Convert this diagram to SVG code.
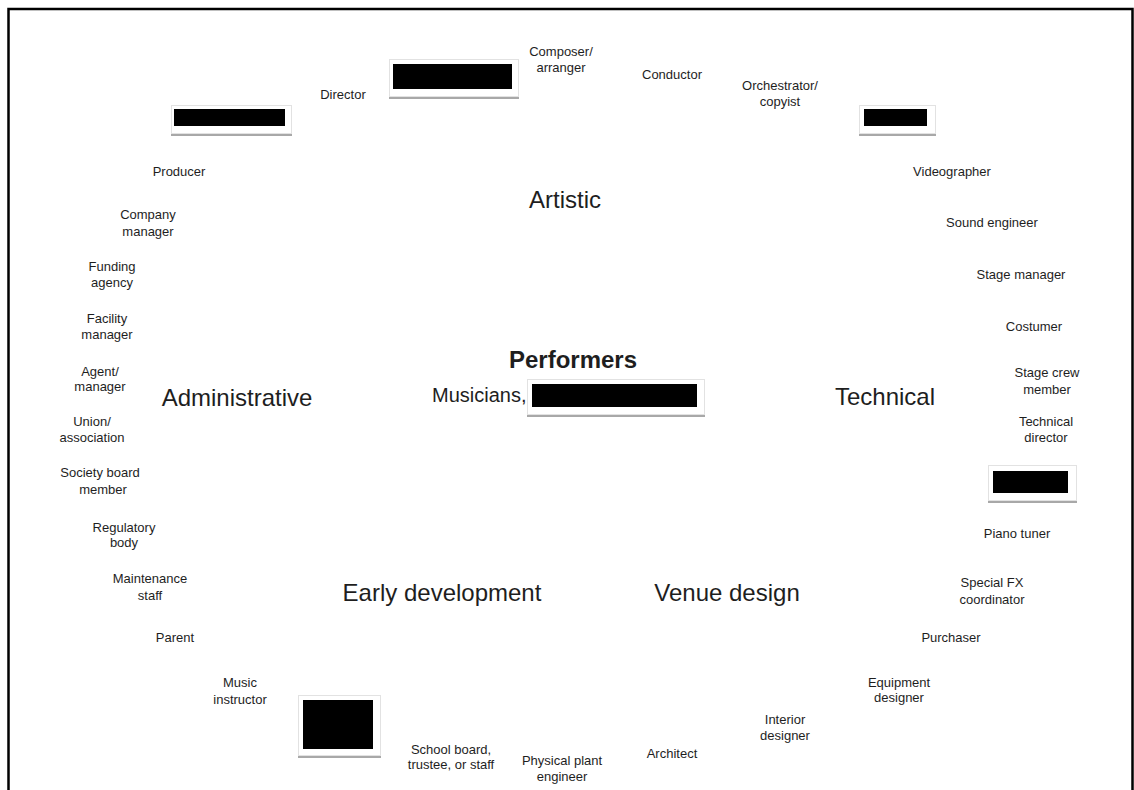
<svg xmlns="http://www.w3.org/2000/svg" width="1134" height="790" viewBox="0 0 1134 790">
<style>
  text { font-family: "Liberation Sans", Arial, sans-serif; fill: #1e1e1e; text-anchor: middle; }
  .s { font-size: 13px; }
  .c { font-size: 24px; }
  .p { font-size: 24px; font-weight: bold; }
  .m { font-size: 20px; text-anchor: start; }
  .shadow { fill: #a8a8a8; }
  .frame { fill: #ffffff; stroke: #e2e2e2; stroke-width: 1; }
  .redact { fill: #000000; }
  .border { stroke: #000000; stroke-width: 2.5; fill: none; }
</style>
<rect width="1134" height="790" fill="#ffffff"/>
<g id="border">
  <polyline class="border" points="8.5,790 8.5,9 1132.5,9 1132.5,790"/>
</g>
<g id="connectors"></g>

<!-- centre -->
<g id="performers"><text class="p" x="573" y="368">Performers</text></g>
<g id="musicians">
  <text class="m" x="432" y="402">Musicians,</text>
  <rect class="shadow" x="527" y="382" width="178" height="35"/>
  <rect class="frame" x="527.5" y="379.5" width="177" height="35"/>
  <rect class="redact" x="532" y="384" width="165" height="23"/>
</g>

<!-- categories -->
<g id="cat-artistic"><text class="c" x="565" y="208">Artistic</text></g>
<g id="cat-administrative"><text class="c" x="237" y="406">Administrative</text></g>
<g id="cat-technical"><text class="c" x="885" y="405">Technical</text></g>
<g id="cat-early"><text class="c" x="442" y="601">Early development</text></g>
<g id="cat-venue"><text class="c" x="727" y="601">Venue design</text></g>

<!-- redacted boxes -->
<g id="redact-1">
  <rect class="shadow" x="171" y="108" width="121" height="28"/>
  <rect class="frame" x="171.5" y="105.5" width="120" height="28"/>
  <rect class="redact" x="174" y="109" width="111" height="17"/>
</g>
<g id="redact-2">
  <rect class="shadow" x="389" y="62" width="130" height="37"/>
  <rect class="frame" x="389.5" y="59.5" width="129" height="37"/>
  <rect class="redact" x="393" y="64" width="119" height="25"/>
</g>
<g id="redact-3">
  <rect class="shadow" x="859" y="108" width="77" height="28"/>
  <rect class="frame" x="859.5" y="105.5" width="76" height="28"/>
  <rect class="redact" x="864" y="109" width="63" height="17"/>
</g>
<g id="redact-4">
  <rect class="shadow" x="988" y="468" width="89" height="35"/>
  <rect class="frame" x="988.5" y="465.5" width="88" height="35"/>
  <rect class="redact" x="993" y="471" width="75" height="22"/>
</g>
<g id="redact-5">
  <rect class="shadow" x="298" y="698" width="83" height="60"/>
  <rect class="frame" x="298.5" y="695.5" width="82" height="60"/>
  <rect class="redact" x="303" y="700" width="70" height="49"/>
</g>

<!-- roles -->
<g id="composer"><text class="s" x="561" y="56">Composer/</text><text class="s" x="561" y="72">arranger</text></g>
<g id="conductor"><text class="s" x="672" y="79">Conductor</text></g>
<g id="orchestrator"><text class="s" x="780" y="90">Orchestrator/</text><text class="s" x="780" y="106">copyist</text></g>
<g id="director"><text class="s" x="343" y="99">Director</text></g>
<g id="producer"><text class="s" x="179" y="176">Producer</text></g>
<g id="videographer"><text class="s" x="952" y="176">Videographer</text></g>
<g id="company-manager"><text class="s" x="148" y="219">Company</text><text class="s" x="148" y="236">manager</text></g>
<g id="funding-agency"><text class="s" x="112" y="271">Funding</text><text class="s" x="112" y="287">agency</text></g>
<g id="facility-manager"><text class="s" x="107" y="323">Facility</text><text class="s" x="107" y="339">manager</text></g>
<g id="agent-manager"><text class="s" x="100" y="376">Agent/</text><text class="s" x="100" y="391">manager</text></g>
<g id="union"><text class="s" x="92" y="426">Union/</text><text class="s" x="92" y="442">association</text></g>
<g id="society-board"><text class="s" x="100" y="477">Society board</text><text class="s" x="103" y="494">member</text></g>
<g id="regulatory"><text class="s" x="124" y="532">Regulatory</text><text class="s" x="124" y="547">body</text></g>
<g id="maintenance"><text class="s" x="150" y="583">Maintenance</text><text class="s" x="150" y="600">staff</text></g>
<g id="parent"><text class="s" x="175" y="642">Parent</text></g>
<g id="music-instructor"><text class="s" x="240" y="687">Music</text><text class="s" x="240" y="704">instructor</text></g>
<g id="school-board"><text class="s" x="451" y="754">School board,</text><text class="s" x="451" y="769">trustee, or staff</text></g>
<g id="physical-plant"><text class="s" x="562" y="765">Physical plant</text><text class="s" x="562" y="781">engineer</text></g>
<g id="architect"><text class="s" x="672" y="758">Architect</text></g>
<g id="interior-designer"><text class="s" x="785" y="724">Interior</text><text class="s" x="785" y="740">designer</text></g>
<g id="equipment-designer"><text class="s" x="899" y="687">Equipment</text><text class="s" x="899" y="702">designer</text></g>
<g id="purchaser"><text class="s" x="951" y="642">Purchaser</text></g>
<g id="special-fx"><text class="s" x="992" y="587">Special  FX</text><text class="s" x="992" y="604">coordinator</text></g>
<g id="piano-tuner"><text class="s" x="1017" y="538">Piano tuner</text></g>
<g id="technical-director"><text class="s" x="1046" y="426">Technical</text><text class="s" x="1046" y="442">director</text></g>
<g id="stage-crew"><text class="s" x="1047" y="377">Stage crew</text><text class="s" x="1047" y="394">member</text></g>
<g id="costumer"><text class="s" x="1034" y="331">Costumer</text></g>
<g id="stage-manager"><text class="s" x="1021" y="279">Stage manager</text></g>
<g id="sound-engineer"><text class="s" x="992" y="227">Sound engineer</text></g>
</svg>
